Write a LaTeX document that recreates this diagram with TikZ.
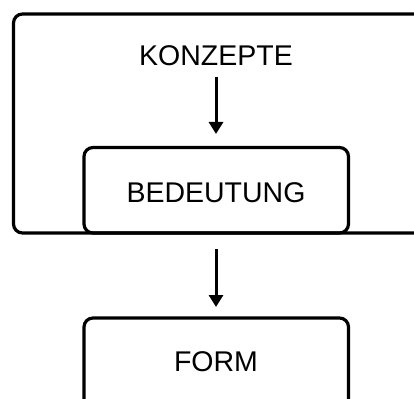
\documentclass[tikz,border=0pt]{standalone}
\usepackage{fontspec}
\setmainfont{Liberation Sans}
\usetikzlibrary{arrows.meta}
\begin{document}
\begin{tikzpicture}[x=1pt,y=-1pt,
  boxline/.style={draw=black,line width=3.2pt,rounded corners=9pt},
  lbl/.style={font=\fontsize{28.5}{32}\selectfont,inner sep=0pt},
  arr/.style={line width=3pt,-{Triangle[length=12pt,width=14pt]}}]
\useasboundingbox (0,0) rectangle (414,398);
\begin{scope}
\clip (0,0) rectangle (414,398);
\draw[boxline] (13.5,14) rectangle (440,233);
\draw[boxline] (84,147.5) rectangle (348.5,233);
\draw[boxline] (84,318) rectangle (348.5,430);
\end{scope}
\node[lbl] (konz) at (216,56) {KONZEPTE};
\node[lbl] (bed) at (216,193) {BEDEUTUNG};
\node[lbl] (form) at (216,362) {FORM};
\coordinate (a1) at (216,77);
\coordinate (a2) at (216,134);
\coordinate (b1) at (216,249);
\coordinate (b2) at (216,307);
\draw[arr] (a1) -- (a2);
\draw[arr] (b1) -- (b2);
\end{tikzpicture}
\end{document}
